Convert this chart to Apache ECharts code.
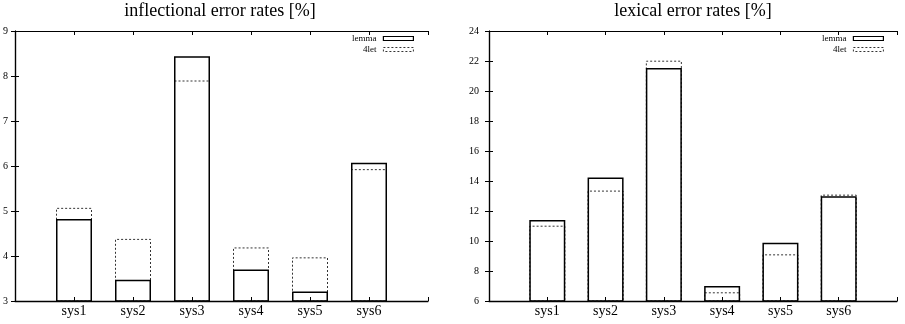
<!DOCTYPE html>
<html>
<head>
<meta charset="utf-8">
<script src="https://cdn.jsdelivr.net/npm/echarts@6/dist/echarts.min.js"></script>
<style>
html, body { margin: 0; padding: 0; background: #fff; }
#chart { width: 905px; height: 324px; }
</style>
</head>
<body>
<div id="chart"></div>
<script>
var categories = ['sys1', 'sys2', 'sys3', 'sys4', 'sys5', 'sys6'];
var inflLemma = [4.82, 3.47, 8.44, 3.70, 3.21, 6.07];
var inflLet = [5.07, 4.38, 7.90, 4.19, 3.97, 5.93];
var lexLemma = [11.40, 14.24, 21.53, 7.00, 9.89, 12.98];
var lexLet = [11.02, 13.36, 22.02, 6.58, 9.11, 13.09];
var titles = ['inflectional error rates [%]', 'lexical error rates [%]'];

var font = 'Liberation Serif';

function pts(vals) {
	return vals.map(function (v, i) { return [i + 1, v]; });
}

function xAxes(grid) {
	return [{
		gridIndex: grid, type: 'value', min: 0, max: 7, interval: 1, position: 'bottom',
		splitLine: {show: false},
		axisLine: {lineStyle: {color: '#000', width: 1.3}},
		axisTick: {inside: true, length: 4, lineStyle: {color: '#000'}},
		axisLabel: {
			fontFamily: font, fontSize: 14, color: '#000', margin: 3,
			formatter: function (v) { return (v >= 1 && v <= 6) ? categories[v - 1] : ''; }
		}
	}, {
		gridIndex: grid, type: 'value', min: 0, max: 7, interval: 1, position: 'top',
		splitLine: {show: false},
		axisLine: {lineStyle: {color: '#000', width: 1.2}},
		axisTick: {inside: true, length: 4, lineStyle: {color: '#000'}},
		axisLabel: {show: false}
	}];
}

function yAxes(grid, min, max, step, margin) {
	return [{
		gridIndex: grid, type: 'value', min: min, max: max, interval: step, position: 'left',
		splitLine: {show: false},
		axisLine: {show: true, lineStyle: {color: '#000', width: 1.2}},
		axisTick: {show: true, inside: true, length: 4, lineStyle: {color: '#000'}},
		axisLabel: {fontFamily: font, fontSize: 10, color: '#000', margin: margin}
	}, {
		gridIndex: grid, type: 'value', min: min, max: max, interval: step, position: 'right',
		splitLine: {show: false},
		axisLine: {show: true, lineStyle: {color: '#000', width: 1.2}},
		axisTick: {show: true, inside: true, length: 4, lineStyle: {color: '#000'}},
		axisLabel: {show: false}
	}];
}

function barPair(grid, lemma, let4) {
	return [{
		name: '4let', type: 'bar', xAxisIndex: grid * 2, yAxisIndex: grid * 2,
		data: pts(let4), barWidth: 36, barGap: '-100%', z: 2,
		itemStyle: {color: 'rgba(0,0,0,0)', borderColor: '#333', borderWidth: 1, borderType: [2, 2]},
		emphasis: {disabled: true}
	}, {
		name: 'lemma', type: 'bar', xAxisIndex: grid * 2, yAxisIndex: grid * 2,
		data: pts(lemma), barWidth: 36, barGap: '-100%', z: 3,
		itemStyle: {color: 'rgba(0,0,0,0)', borderColor: '#000', borderWidth: 1.5},
		emphasis: {disabled: true}
	}];
}

function legend(right) {
	return {
		orient: 'vertical', right: right, top: 33, align: 'right',
		itemWidth: 30, itemHeight: 4, itemGap: 0, padding: 0,
		icon: 'rect',
		data: [
			{name: 'lemma', itemStyle: {color: '#fff', borderColor: '#000', borderWidth: 1.2, borderType: 'solid'}},
			{name: '4let', itemStyle: {color: '#fff', borderColor: '#333', borderWidth: 1, borderType: [2, 2]}}
		],
		textStyle: {fontFamily: font, fontSize: 9, color: '#000', lineHeight: 11, padding: [0, 2, 0, 0]},
		selectedMode: false
	};
}

var myChart = echarts.init(document.getElementById('chart'));
var option = {
	animation: false,
	backgroundColor: '#fff',
	title: [
		{text: titles[0], left: 220, top: 2, textAlign: 'center', padding: 0,
			textStyle: {fontFamily: font, fontSize: 18, fontWeight: 'normal', color: '#000'}},
		{text: titles[1], left: 693, top: 2, textAlign: 'center', padding: 0,
			textStyle: {fontFamily: font, fontSize: 18, fontWeight: 'normal', color: '#000'}}
	],
	legend: [legend(491), legend(21)],
	grid: [
		{left: 13, right: 477, top: 31, bottom: 23},
		{left: 489, right: 8, top: 31, bottom: 23}
	],
	xAxis: xAxes(0).concat(xAxes(1)),
	yAxis: yAxes(0, 3, 9, 1, 7).concat(yAxes(1, 6, 24, 2, 10)),
	series: barPair(0, inflLemma, inflLet).concat(barPair(1, lexLemma, lexLet))
};
myChart.setOption(option);
</script>
</body>
</html>
